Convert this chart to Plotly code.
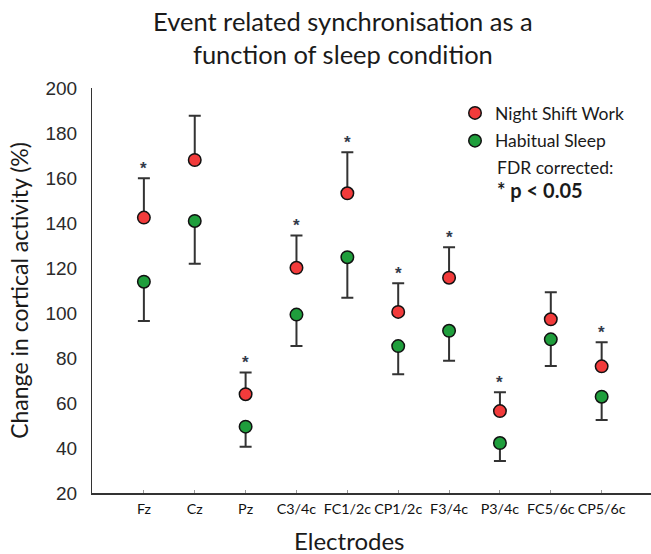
import plotly.graph_objects as go

# ---- data ----
electrodes = ["Fz", "Cz", "Pz", "C3/4c", "FC1/2c", "CP1/2c", "F3/4c", "P3/4c", "FC5/6c", "CP5/6c"]
night_shift = [142.4, 168.0, 63.9, 120.1, 153.2, 100.5, 115.7, 56.4, 97.2, 76.3]
night_shift_err = [17.5, 19.7, 9.7, 14.3, 18.2, 12.7, 13.5, 8.4, 12.0, 10.7]
habitual = [113.9, 140.9, 49.5, 99.3, 124.8, 85.3, 92.1, 42.2, 88.3, 62.8]
habitual_err = [17.5, 19.0, 8.9, 14.0, 18.0, 12.5, 13.3, 8.0, 11.9, 10.4]
significant = [True, False, True, True, True, True, True, True, False, True]
y_ticks = [20, 40, 60, 80, 100, 120, 140, 160, 180, 200]

RED = "#f23b3b"
GREEN = "#1f9e3c"
INK = "#1a1a1a"
BODY = "Lato, 'Open Sans', sans-serif"

W, H = 651, 554
L, R, T, B = 92, 0, 88, 61
PW, PH = W - L - R, H - T - B


def fx(px):
    return (px - L) / PW


def fy(py):
    return 1 - (py - T) / PH


fig = go.Figure()

fig.add_trace(go.Scatter(
    x=electrodes, y=night_shift, mode="markers", name="Night Shift Work",
    marker=dict(size=12.5, color=RED, line=dict(color="#111111", width=1.5)),
    error_y=dict(type="data", symmetric=False, array=night_shift_err,
                 arrayminus=[0] * len(night_shift), color="#333333",
                 thickness=2, width=6),
    legendgroup="a",
))
fig.add_trace(go.Scatter(
    x=electrodes, y=habitual, mode="markers", name="Habitual Sleep",
    marker=dict(size=12.5, color=GREEN, line=dict(color="#111111", width=1.5)),
    error_y=dict(type="data", symmetric=False, array=[0] * len(habitual),
                 arrayminus=habitual_err, color="#333333",
                 thickness=2, width=6),
    legendgroup="b",
))

annotations = []
for cat, v, e, s in zip(electrodes, night_shift, night_shift_err, significant):
    if s:
        annotations.append(dict(
            x=cat, y=v + e, xref="x", yref="y", text="<b>*</b>",
            showarrow=False, yanchor="middle", yshift=10,
            font=dict(family="Liberation Sans, Arial", size=17, color="#333a4a"),
        ))

annotations += [
    dict(xref="paper", yref="paper", x=fx(343), y=fy(38),
         text="Event related synchronisation as a<br>function of sleep condition",
         showarrow=False, xanchor="center", yanchor="middle",
         font=dict(family=BODY, size=25.5, color=INK), align="center"),
    dict(xref="paper", yref="paper", x=fx(349), y=fy(540),
         text="Electrodes", showarrow=False, xanchor="center", yanchor="middle",
         font=dict(family=BODY, size=24, color=INK)),
    dict(xref="paper", yref="paper", x=fx(495), y=fy(167),
         text="FDR corrected:", showarrow=False, xanchor="left", yanchor="middle",
         font=dict(family=BODY, size=17.5, color=INK)),
    dict(xref="paper", yref="paper", x=fx(495), y=fy(190),
         text="<b>* p < 0.05</b>", showarrow=False, xanchor="left", yanchor="middle",
         font=dict(family=BODY, size=20, color=INK)),
]

fig.update_layout(
    width=W, height=H,
    margin=dict(l=L, r=R, t=T, b=B),
    paper_bgcolor="white", plot_bgcolor="white",
    showlegend=True,
    legend=dict(x=fx(455), y=fy(95),
                xanchor="left", yanchor="top",
                font=dict(family=BODY, size=17.5, color=INK),
                bgcolor="rgba(0,0,0,0)", tracegroupgap=2),
    annotations=annotations,
    xaxis=dict(
        type="category", range=[-1.02, 9.97],
        showline=True, linecolor="#333333", linewidth=2,
        showgrid=False, zeroline=False,
        ticks="inside", ticklen=3, tickcolor="#999999", tickwidth=1,
        tickfont=dict(family=BODY, size=14.3, color="#111111"),
        tickangle=0,
        ticklabelstandoff=2,
    ),
    yaxis=dict(
        range=[20, 200], tickvals=y_ticks,
        showline=True, linecolor="#333333", linewidth=1,
        showgrid=False, zeroline=False, ticks="",
        tickfont=dict(family="Liberation Sans, Arial", size=19, color="#2a2a2a"),
        ticklabelstandoff=10,
        title=dict(text="Change in cortical activity (%)",
                   font=dict(family=BODY, size=23, color=INK), standoff=10),
    ),
)

fig.write_html("out.html")
